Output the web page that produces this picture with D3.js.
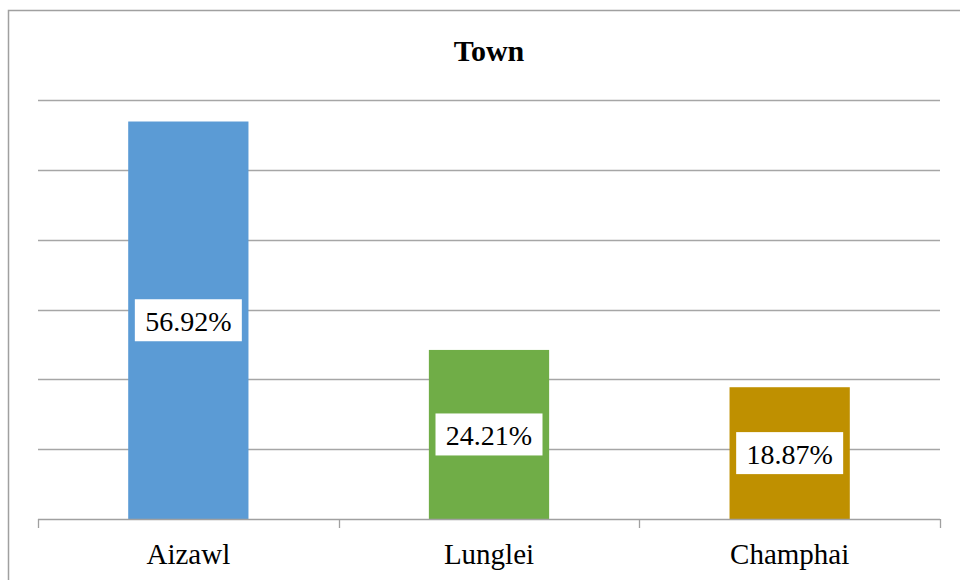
<!DOCTYPE html>
<html>
<head>
<meta charset="utf-8">
<script src="https://cdn.jsdelivr.net/npm/d3@7"></script>
<style>
  html, body { margin: 0; padding: 0; background: #fff; }
  svg { display: block; }
</style>
</head>
<body>
<div id="chart"></div>
<script>
// Share of respondents by town
const categories = ["Aizawl", "Lunglei", "Champhai"];
const values = [56.92, 24.21, 18.87];
const colors = ["#5b9bd5", "#70ad47", "#bf9000"];
const yTicks = [0, 10, 20, 30, 40, 50, 60];
const title = "Town";

const FONT = "'Liberation Serif', 'Times New Roman', Times, 'DejaVu Serif', serif";
const width = 960, height = 580;
const plot = { left: 38, right: 940, top: 100, bottom: 519 };

const svg = d3.select("#chart").append("svg")
  .attr("width", width).attr("height", height)
  .attr("font-family", FONT);

// Outer chart frame
svg.append("rect")
  .attr("x", 8.5).attr("y", 10.5)
  .attr("width", width + 10).attr("height", height + 10)
  .attr("fill", "#fff").attr("stroke", "#a0a0a0").attr("stroke-width", 1.5);

const x = d3.scaleBand()
  .domain(categories)
  .range([plot.left, plot.right])
  .paddingInner(0.6)
  .paddingOuter(0.3);

const y = d3.scaleLinear()
  .domain([0, 60])
  .range([plot.bottom, plot.top]);

// Horizontal gridlines
svg.append("g")
  .selectAll("line")
  .data(yTicks.filter(t => t > 0))
  .join("line")
  .attr("x1", plot.left).attr("x2", plot.right)
  .attr("y1", d => Math.round(y(d)) + 0.5).attr("y2", d => Math.round(y(d)) + 0.5)
  .attr("stroke", "#a6a6a6").attr("stroke-width", 1.3);

// Bars
svg.append("g")
  .selectAll("rect")
  .data(values)
  .join("rect")
  .attr("x", (d, i) => x(categories[i]))
  .attr("width", x.bandwidth())
  .attr("y", d => y(d))
  .attr("height", d => y(0) - y(d))
  .attr("fill", (d, i) => colors[i]);

// Category axis with ticks between categories
const xAxis = svg.append("g");
xAxis.append("line")
  .attr("x1", plot.left).attr("x2", plot.right)
  .attr("y1", plot.bottom + 0.5).attr("y2", plot.bottom + 0.5)
  .attr("stroke", "#a0a0a0").attr("stroke-width", 1.3);
const bounds = [plot.left].concat(categories.map(c => x(c) - x.step() * x.paddingInner() / 2 + x.step()));
xAxis.selectAll("line.tick")
  .data(bounds)
  .join("line")
  .attr("class", "tick")
  .attr("x1", d => Math.round(d) + 0.5).attr("x2", d => Math.round(d) + 0.5)
  .attr("y1", plot.bottom).attr("y2", plot.bottom + 9)
  .attr("stroke", "#a0a0a0").attr("stroke-width", 1.3);
xAxis.selectAll("text")
  .data(categories)
  .join("text")
  .attr("x", d => x(d) + x.bandwidth() / 2)
  .attr("y", 564)
  .attr("text-anchor", "middle")
  .attr("font-family", FONT)
  .attr("font-size", 29)
  .attr("fill", "#000")
  .text(d => d);

// Value labels in white boxes, centred on each bar
const labels = svg.append("g")
  .selectAll("g")
  .data(values)
  .join("g")
  .attr("transform", (d, i) => `translate(${x(categories[i]) + x.bandwidth() / 2},${(y(d) + y(0)) / 2})`);
labels.append("rect")
  .attr("x", -53.5).attr("y", -21)
  .attr("width", 107).attr("height", 42)
  .attr("fill", "#fff");
labels.append("text")
  .attr("y", 10.5)
  .attr("text-anchor", "middle")
  .attr("font-family", FONT)
  .attr("font-size", 28)
  .attr("fill", "#000")
  .text(d => d.toFixed(2) + "%");

// Title
svg.append("text")
  .attr("x", (plot.left + plot.right) / 2)
  .attr("y", 61)
  .attr("text-anchor", "middle")
  .attr("font-family", FONT)
  .attr("font-size", 30)
  .attr("font-weight", "bold")
  .attr("fill", "#000")
  .text(title);
</script>
</body>
</html>
